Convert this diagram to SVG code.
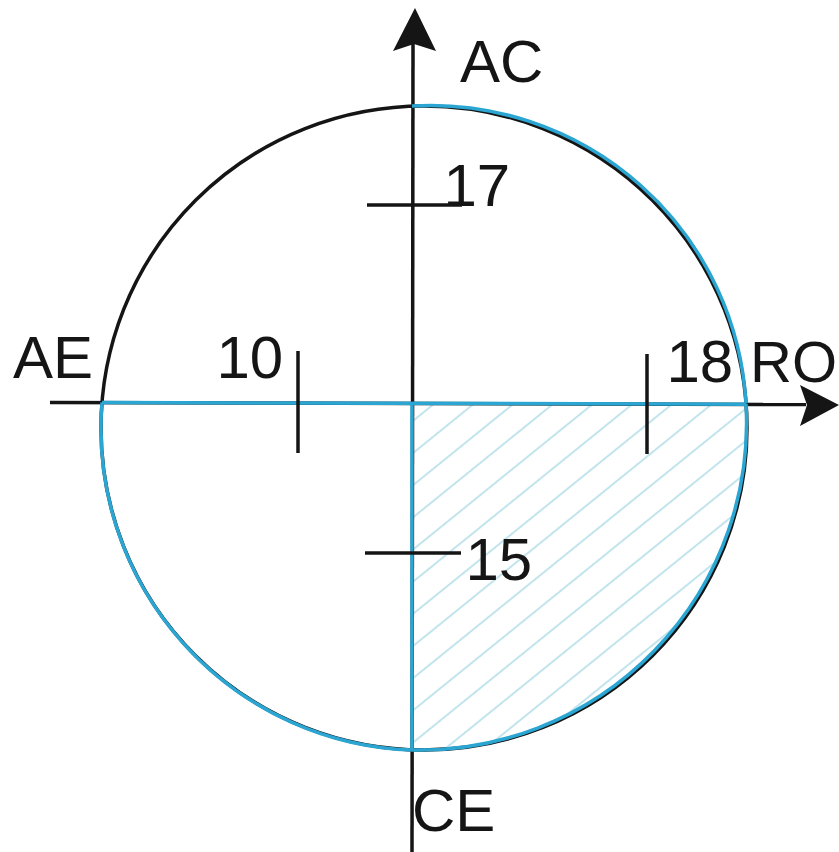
<svg xmlns="http://www.w3.org/2000/svg" width="839" height="852" viewBox="0 0 839 852">
<style>
.k{stroke:#151515;stroke-width:3.5;fill:none}
.b{stroke:#2ba6d3;stroke-width:3.5;fill:none}
.t{font-family:"Liberation Sans",Arial,sans-serif;font-size:60px;fill:#151515}
</style>
<defs>
<pattern id="hatch" patternUnits="userSpaceOnUse" width="25" height="25" patternTransform="rotate(-39)">
<line x1="0" y1="12" x2="25" y2="12" stroke="#9fd6e3" stroke-width="1.3"/>
</pattern>
<clipPath id="q4"><path d="M412,404 L746,404 A327,327 0 0 1 412,750 Z"/></clipPath>
</defs>
<rect width="839" height="852" fill="#fff"/>
<g id="hatched-quadrant">
<rect x="412" y="404" width="340" height="350" fill="url(#hatch)" clip-path="url(#q4)"/>
</g>
<g id="circle">
<ellipse class="k" cx="424" cy="428" rx="323" ry="322"/>
</g>
<g id="connectors">
<line class="k" x1="50" y1="402.5" x2="806" y2="404.5"/>
<polygon fill="#151515" points="839,405 800,385 807,405 800,426"/>
<line class="k" x1="413" y1="44" x2="412" y2="852"/>
<polygon fill="#151515" points="415,8 436,51 414,44 393,51"/>
<path class="b" d="M412,106 A316,316 0 0 1 746,403.5"/>
<path class="b" d="M746,404 A327,327 0 0 1 412,750"/>
<path class="b" d="M412,750 A322,322 0 0 1 102,402.5"/>
<line class="b" x1="102" y1="402.5" x2="746" y2="404.2"/>
<line class="b" x1="412" y1="403" x2="412" y2="750"/>
</g>
<g id="tick-10"><line class="k" x1="298" y1="351" x2="298" y2="453"/><text class="t" x="216.5" y="378">10</text></g>
<g id="tick-18"><line class="k" x1="647" y1="354" x2="647" y2="454"/><text class="t" x="666.5" y="382">18</text></g>
<g id="tick-17"><line class="k" x1="367" y1="205" x2="462" y2="205"/><text class="t" x="443.5" y="206">17</text></g>
<g id="tick-15"><line class="k" x1="365" y1="553" x2="461" y2="553"/><text class="t" x="465.5" y="580">15</text></g>
<g id="label-AC"><text class="t" x="460" y="82">AC</text></g>
<g id="label-AE"><text class="t" x="13" y="378">AE</text></g>
<g id="label-RO"><text class="t" x="750" y="382" style="font-size:58px">RO</text></g>
<g id="label-CE"><text class="t" x="412" y="831">CE</text></g>
</svg>
